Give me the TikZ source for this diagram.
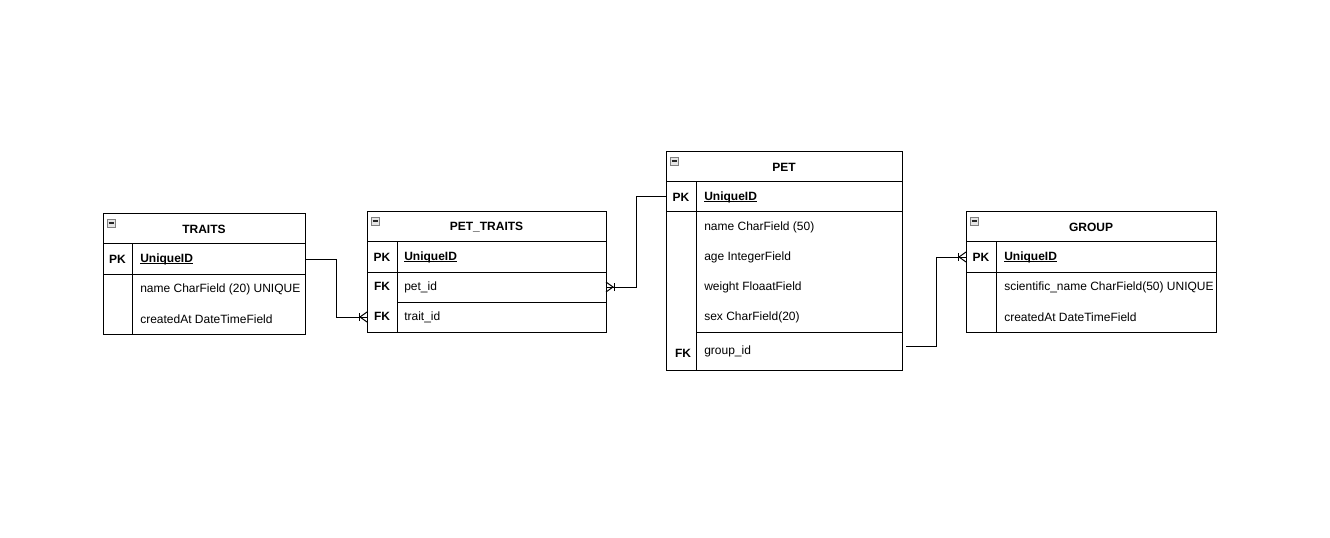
\documentclass[tikz,border=0pt]{standalone}
\usepackage{fontspec}
\setmainfont{Liberation Sans}
\newcommand\myuline[1]{\setbox0\hbox{#1}\rlap{\rule[-1.3pt]{\wd0}{0.6pt}}\box0}
\begin{document}
\begin{tikzpicture}[x=0.75pt,y=-0.75pt,
  font=\fontsize{9pt}{11pt}\selectfont,
  box/.style={draw=black, line width=0.75pt, anchor=north west, inner sep=0pt, outer sep=0pt, minimum height=22.5pt},
  ghost/.style={anchor=north west, inner sep=0pt, outer sep=0pt, minimum height=22.5pt},
  ttl/.style={font=\fontsize{9pt}{11pt}\selectfont\bfseries},
  key/.style={font=\fontsize{9pt}{11pt}\selectfont\bfseries, anchor=center, inner sep=0pt},
  fld/.style={anchor=west, inner sep=0pt},
  conn/.style={draw=black, line width=0.75pt},
  collapse/.pic={
    \draw[draw=black!50, fill=black!10, line width=0.5pt] (0,0) rectangle (8,8);
    \draw[line width=0.9pt, black!85] (1.5,4) -- (6.5,4);
  },
  crow/.pic={
    \draw[conn] (-8,-4) -- (-8,4);
    \draw[conn] (0,-5) -- (-7,0) -- (0,5);
  }
]
\fill[white] (0,0) rectangle (1330,538);
\useasboundingbox (0,0) rectangle (1330,538);

% ---------- TRAITS ----------
\node[box, minimum width=151.5pt, ttl] (tr-h) at (103,214) {TRAITS};
\node[box, minimum width=151.5pt] (tr-pk) at (103,244) {};
\node[box, minimum width=151.5pt, minimum height=45pt] (tr-b) at (103,274) {};
\draw[conn] (132,244) -- (132,334);
\node[key] (tr-pkk) at (117.5,259) {PK};
\node[fld] (tr-pkf) at (140,259) {\textbf{\myuline{UniqueID}}};
\node[fld] (tr-f1) at (140,289) {name CharField (20) UNIQUE};
\node[fld] (tr-f2) at (140,319) {createdAt DateTimeField};
\pic at (107,219) {collapse};

% ---------- PET_TRAITS ----------
\node[box, minimum width=179.25pt, ttl] (pt-h) at (367,212) {PET\_TRAITS};
\node[box, minimum width=179.25pt] (pt-pk) at (367,242) {};
\node[box, minimum width=179.25pt, minimum height=45pt] (pt-fk) at (367,272) {};
\node[ghost, minimum width=179.25pt] (pt-pet) at (367,272) {};
\node[ghost, minimum width=179.25pt] (pt-trait) at (367,302) {};
\draw[conn] (397,302) -- (606,302);
\draw[conn] (397,242) -- (397,332);
\node[key] (pt-pkk) at (382,257) {PK};
\node[fld] (pt-pkf) at (404,257) {\textbf{\myuline{UniqueID}}};
\node[key] (pt-fk1k) at (382,286) {FK};
\node[fld] (pt-fk1f) at (404,287) {pet\_id};
\node[key] (pt-fk2k) at (382,316) {FK};
\node[fld] (pt-fk2f) at (404,317) {trait\_id};
\pic at (371,217) {collapse};

% ---------- PET ----------
\node[box, minimum width=177pt, ttl] (pet-h) at (666,152) {PET};
\node[box, minimum width=177pt] (pet-pk) at (666,182) {};
\node[box, minimum width=177pt, minimum height=118.5pt] (pet-b) at (666,212) {};
\node[ghost, minimum width=177pt, minimum height=28.5pt] (pet-fk) at (666,332) {};
\draw[conn] (696,332) -- (902,332);
\draw[conn] (696,182) -- (696,370);
\node[key] (pet-pkk) at (681,197) {PK};
\node[fld] (pet-pkf) at (704,197) {\textbf{\myuline{UniqueID}}};
\node[fld] (pet-f1) at (704,227) {name CharField (50)};
\node[fld] (pet-f2) at (704,257) {age IntegerField};
\node[fld] (pet-f3) at (704,287) {weight FloaatField};
\node[fld] (pet-f4) at (704,317) {sex CharField(20)};
\node[key] (pet-fkk) at (683,353) {FK};
\node[fld] (pet-fkf) at (704,351) {group\_id};
\pic at (670,157) {collapse};

% ---------- GROUP ----------
\node[box, minimum width=187.5pt, ttl] (gr-h) at (966,212) {GROUP};
\node[box, minimum width=187.5pt] (gr-pk) at (966,242) {};
\node[box, minimum width=187.5pt, minimum height=45pt] (gr-b) at (966,272) {};
\draw[conn] (996,242) -- (996,332);
\node[key] (gr-pkk) at (981,257) {PK};
\node[fld] (gr-pkf) at (1004,257) {\textbf{\myuline{UniqueID}}};
\node[fld] (gr-f1) at (1004,287) {scientific\_name CharField(50) UNIQUE};
\node[fld] (gr-f2) at (1004,317) {createdAt DateTimeField};
\pic at (970,217) {collapse};

% ---------- connectors ----------
\draw[conn] (tr-pk.east) -- ++(31,0) |- (pt-trait.west);
\pic at (pt-trait.west) {crow};
\draw[conn] (pt-pet.east) -- ++(30,0) |- (pet-pk.west);
\pic[rotate=180] at (pt-pet.east) {crow};
\draw[conn] ([shift={(4,-5)}]pet-fk.east) -- ++(30,0) |- (gr-pk.west);
\pic at (gr-pk.west) {crow};
\end{tikzpicture}
\end{document}
